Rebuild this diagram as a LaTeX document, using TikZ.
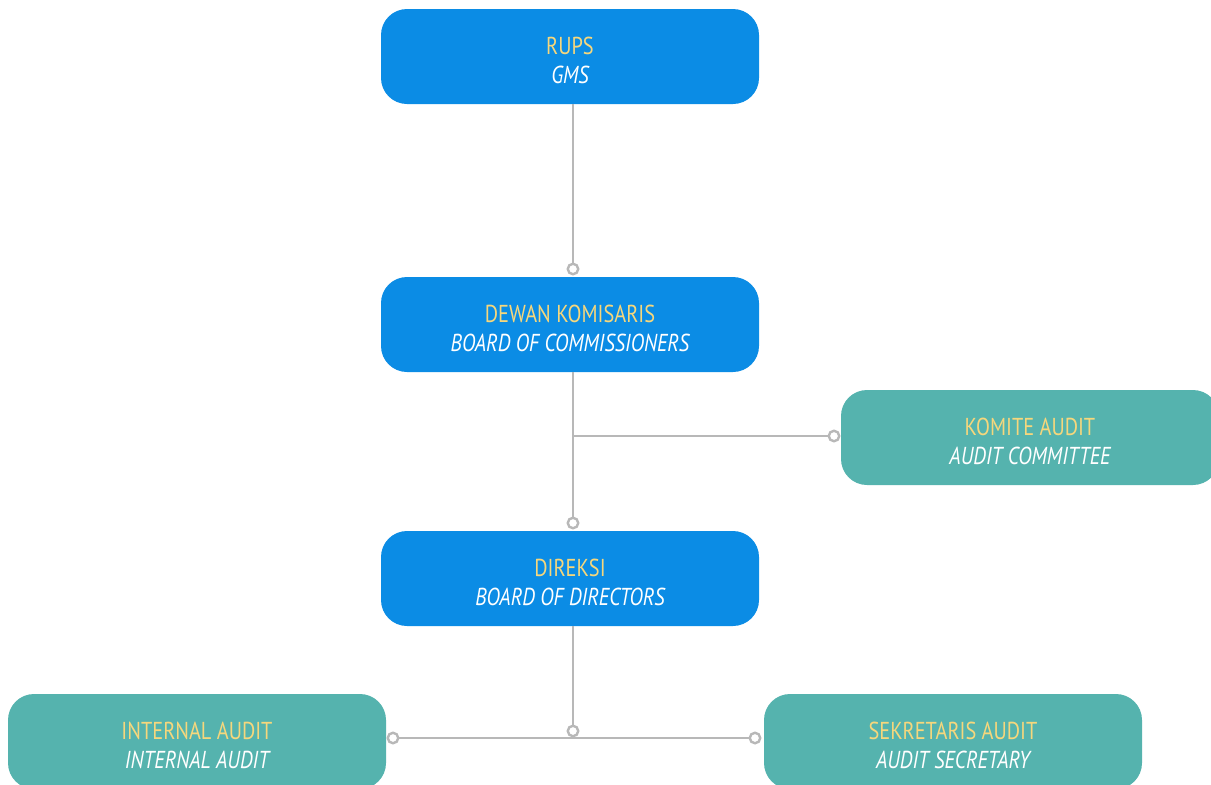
\documentclass[tikz,border=0pt]{standalone}
\usepackage{fontspec}
\setmainfont[FakeStretch=0.83]{PT Sans}
\definecolor{boxblue}{HTML}{0B8CE5}
\definecolor{boxteal}{HTML}{55B3AE}
\definecolor{txtyellow}{HTML}{F6D77C}
\definecolor{linegrey}{HTML}{B8B8B8}
\begin{document}
\begin{tikzpicture}[x=1pt,y=-1pt,
  orgbox/.style={rounded corners=26pt, minimum width=378pt, minimum height=95pt, inner sep=0pt},
  bluebox/.style={orgbox, fill=boxblue},
  tealbox/.style={orgbox, fill=boxteal},
  boxtext/.style={align=center, inner sep=0pt, yshift=-4pt, font=\fontsize{24.5}{29}\selectfont},
  conn/.style={draw=linegrey, line width=2.7pt},
  dot/.style={circle, draw=linegrey, line width=2.4pt, fill=white, minimum size=10.5pt, inner sep=0pt}
]
\useasboundingbox (0,0) rectangle (1211,785);
\newcommand{\twolines}[2]{\textcolor{txtyellow}{#1}\\\textcolor{white}{\itshape #2}}
\node[bluebox, label={[boxtext]center:\twolines{RUPS}{GMS}}] (rups) at (570,56.5) {};
\node[bluebox, label={[boxtext]center:\twolines{DEWAN KOMISARIS}{BOARD OF COMMISSIONERS}}] (dekom) at (570,324.5) {};
\node[tealbox, label={[boxtext]center:\twolines{KOMITE AUDIT}{AUDIT COMMITTEE}}] (komite) at (1030,437.5) {};
\node[bluebox, label={[boxtext]center:\twolines{DIREKSI}{BOARD OF DIRECTORS}}] (direksi) at (570,578.5) {};
\node[tealbox, label={[boxtext]center:\twolines{INTERNAL AUDIT}{INTERNAL AUDIT}}] (ia) at (197,741.5) {};
\node[tealbox, label={[boxtext]center:\twolines{SEKRETARIS AUDIT}{AUDIT SECRETARY}}] (sek) at (953,741.5) {};
% junction coordinates
\coordinate (j1) at (573,436);
\coordinate (j2) at (573,738);
% connectors
\draw[conn] (rups.south -| j1) -- (573,269);
\draw[conn] (dekom.south -| j1) -- (573,523);
\draw[conn] (j1) -- (834,436);
\draw[conn] (393,738) -- (755,738);
\draw[conn] (direksi.south -| j2) -- (573,731);
\node[dot] (d1) at (573,269) {};
\node[dot] (d2) at (573,523) {};
\node[dot] (d3) at (834,436) {};
\node[dot] (d4) at (573,731) {};
\node[dot] (d5) at (393,738) {};
\node[dot] (d6) at (755,738) {};
\end{tikzpicture}
\end{document}
